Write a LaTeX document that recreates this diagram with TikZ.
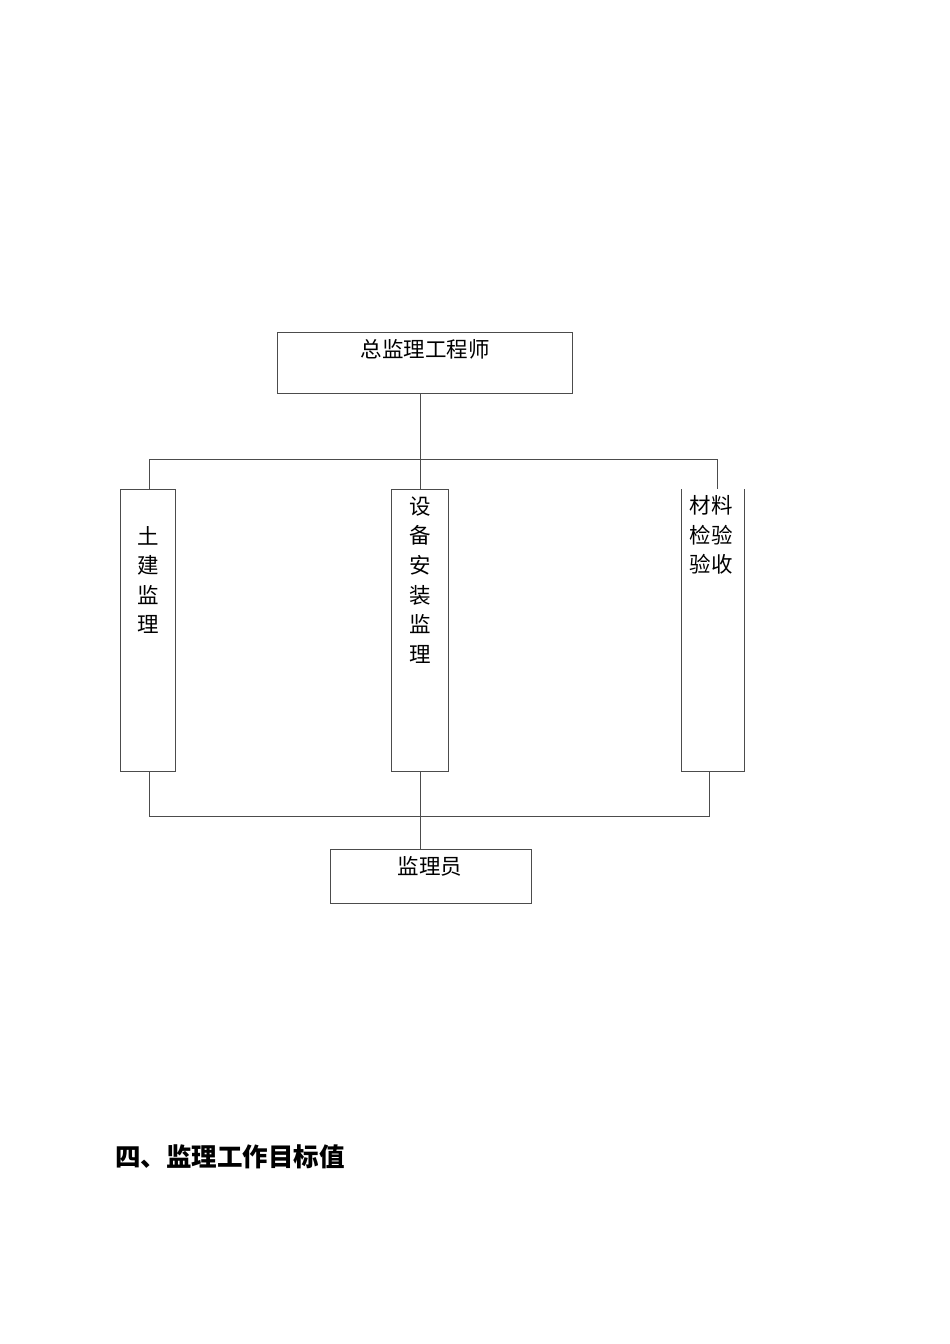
\documentclass[tikz,border=0pt]{standalone}
\usepackage{fontspec}
\newfontfamily\cjk{Noto Sans CJK SC}
\begin{document}
\begin{tikzpicture}[x=1pt,y=-1pt,
  box/.style={draw=black!70,line width=1pt,inner sep=0pt,anchor=north west},
  openbox/.style={inner sep=0pt,anchor=north west},
  link/.style={draw=black!70,line width=1pt},
  lbl/.style={font=\cjk\fontsize{21.5}{29.6}\selectfont,inner sep=0pt,align=center,text=black},
  head/.style={font=\cjk\bfseries\fontsize{25.5}{28}\selectfont,inner sep=0pt,anchor=west,text=black}]
\useasboundingbox (0,0) rectangle (950,1344);
% boxes
\node[box,minimum width=295pt,minimum height=61pt] (top) at (277,332) {};
\node[box,minimum width=55pt,minimum height=282pt] (b1) at (120,489) {};
\node[box,minimum width=57pt,minimum height=282pt] (b2) at (391,489) {};
\node[openbox,minimum width=63pt,minimum height=282pt] (b3) at (681,489) {};
\draw[link] (b3.north west) -- (b3.south west) -- (b3.south east) -- (b3.north east);
\node[box,minimum width=201pt,minimum height=54pt] (bot) at (330,849) {};
% labels
\node[lbl] (t0) at (425,349) {总监理工程师};
\node[lbl] (t1) at (148,580) {土\\建\\监\\理};
\node[lbl] (t2) at (420,580) {设\\备\\安\\装\\监\\理};
\node[lbl] (t3) at (711,535) {材料\\检验\\验收};
\node[lbl] (t4) at (430,866) {监理员};
\node[head] (h) at (115,1157) {四、监理工作目标值};
% connectors
\coordinate (busL) at (149,459);
\coordinate (busR) at (717,459);
\coordinate (lowL) at (149,816);
\coordinate (lowR) at (709,816);
\draw[link] (top.south -| b2.north) -- (b2.north);
\draw[link] (b1.north -| busL) -- (busL) -- (busR) -- (b3.north -| busR);
\draw[link] (b1.south -| lowL) -- (lowL) -- (lowR) -- (b3.south -| lowR);
\draw[link] (b2.south) -- (b2.south |- bot.north);
\end{tikzpicture}
\end{document}
